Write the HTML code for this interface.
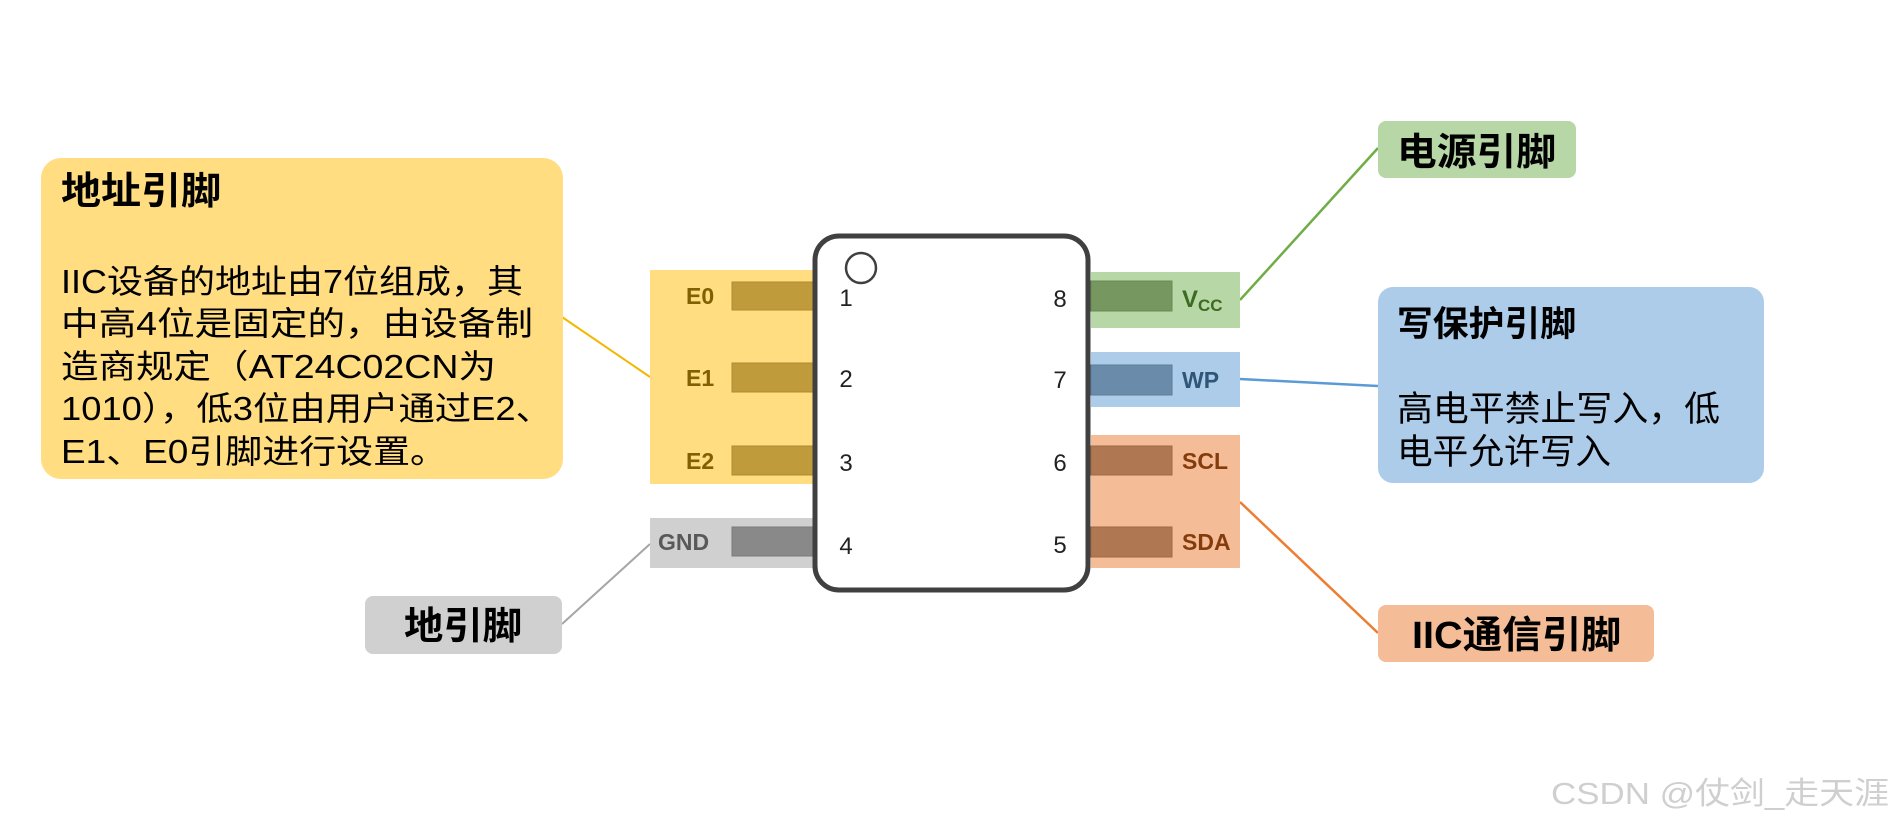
<!DOCTYPE html>
<html><head><meta charset="utf-8"><style>
html,body{margin:0;padding:0;background:#fff;}
svg{display:block;}
text{font-family:"Liberation Sans","Noto Sans CJK SC",sans-serif;}
</style></head><body>
<svg width="1893" height="824" viewBox="0 0 1893 824" xmlns="http://www.w3.org/2000/svg">
<line x1="562" y1="317" x2="650" y2="377" stroke="#f2b800" stroke-width="2"/>
<line x1="562" y1="624" x2="650" y2="544" stroke="#a6a6a6" stroke-width="2"/>
<line x1="1240" y1="300" x2="1378" y2="148" stroke="#70ad47" stroke-width="2.5"/>
<line x1="1240" y1="379" x2="1378" y2="386" stroke="#5b9bd5" stroke-width="2.5"/>
<line x1="1240" y1="502" x2="1378" y2="633" stroke="#ed7d31" stroke-width="2.5"/>

<rect x="650" y="270" width="163" height="214" fill="#ffdd80"/>
<rect x="732" y="282" width="81" height="28" fill="#bf9b3c" stroke="#b08a30"/>
<rect x="732" y="363" width="81" height="29" fill="#bf9b3c" stroke="#b08a30"/>
<rect x="732" y="446" width="81" height="29" fill="#bf9b3c" stroke="#b08a30"/>
<g font-weight="bold" font-size="23" fill="#806000">
<text x="686" y="304">E0</text>
<text x="686" y="386">E1</text>
<text x="686" y="469">E2</text>
</g>
<rect x="650" y="518" width="163" height="50" fill="#d0d0d0"/>
<rect x="732" y="527" width="81" height="29" fill="#898989" stroke="#7a7a7a"/>
<text x="658" y="550" font-weight="bold" font-size="23" fill="#595959">GND</text>

<rect x="1091" y="272" width="149" height="56" fill="#b7d7a6"/>
<rect x="1091" y="281" width="81" height="30" fill="#76975f" stroke="#688a52"/>
<text x="1182" y="307" font-weight="bold" font-size="24" fill="#3e6b22">V<tspan font-size="17" dy="4">CC</tspan></text>
<rect x="1091" y="352" width="149" height="55" fill="#adcce9"/>
<rect x="1091" y="365" width="81" height="30" fill="#6a8caa" stroke="#5c7e9c"/>
<text x="1182" y="388" font-weight="bold" font-size="23" fill="#2f5577">WP</text>
<rect x="1091" y="435" width="149" height="133" fill="#f5bc98"/>
<rect x="1091" y="446" width="81" height="29" fill="#b07852" stroke="#a06a45"/>
<rect x="1091" y="527" width="81" height="30" fill="#b07852" stroke="#a06a45"/>
<g font-weight="bold" font-size="23" fill="#843c0c">
<text x="1182" y="469">SCL</text>
<text x="1182" y="550">SDA</text>
</g>

<rect x="815" y="236" width="273" height="354" rx="24" fill="#fff" stroke="#404040" stroke-width="5"/>
<circle cx="861" cy="268" r="15" fill="none" stroke="#404040" stroke-width="2.5"/>
<g font-size="24" fill="#222" text-anchor="middle">
<text x="846" y="306">1</text>
<text x="846" y="387">2</text>
<text x="846" y="471">3</text>
<text x="846" y="554">4</text>
<text x="1060" y="307">8</text>
<text x="1060" y="388">7</text>
<text x="1060" y="471">6</text>
<text x="1060" y="553">5</text>
</g>

<rect x="41" y="158" width="522" height="321" rx="20" fill="#ffdd80"/>
<text x="61" y="204" font-weight="bold" font-size="38" fill="#000" textLength="160" lengthAdjust="spacingAndGlyphs">地址引脚</text>
<g font-size="33" fill="#000">
<text x="61" y="293" textLength="462" lengthAdjust="spacingAndGlyphs">IIC设备的地址由7位组成，其</text>
<text x="61" y="335" textLength="472" lengthAdjust="spacingAndGlyphs">中高4位是固定的，由设备制</text>
<text x="61" y="378" textLength="435" lengthAdjust="spacingAndGlyphs">造商规定（AT24C02CN为</text>
<text x="61" y="420" textLength="491" lengthAdjust="spacingAndGlyphs">1010），低3位由用户通过E2、</text>
<text x="61" y="463" textLength="386" lengthAdjust="spacingAndGlyphs">E1、E0引脚进行设置。</text>
</g>

<rect x="365" y="596" width="197" height="58" rx="8" fill="#d0d0d0"/>
<text x="404" y="639" font-weight="bold" font-size="38" fill="#000" textLength="118" lengthAdjust="spacingAndGlyphs">地引脚</text>

<rect x="1378" y="121" width="198" height="57" rx="8" fill="#b7d7a6"/>
<text x="1397" y="165" font-weight="bold" font-size="38" fill="#000" textLength="159" lengthAdjust="spacingAndGlyphs">电源引脚</text>

<rect x="1378" y="287" width="386" height="196" rx="15" fill="#adcce9"/>
<text x="1397" y="336" font-weight="bold" font-size="35" fill="#000" textLength="179" lengthAdjust="spacingAndGlyphs">写保护引脚</text>
<g font-size="35" fill="#000">
<text x="1397" y="421" textLength="323" lengthAdjust="spacingAndGlyphs">高电平禁止写入，低</text>
<text x="1397" y="464" textLength="214" lengthAdjust="spacingAndGlyphs">电平允许写入</text>
</g>

<rect x="1378" y="605" width="276" height="57" rx="8" fill="#f5bc98"/>
<text x="1412" y="648" font-weight="bold" font-size="38" fill="#000" textLength="209" lengthAdjust="spacingAndGlyphs">IIC通信引脚</text>

<text x="1551" y="804" font-size="31" fill="#cfcfcf" textLength="338" lengthAdjust="spacingAndGlyphs">CSDN @仗剑_走天涯</text>
</svg>
</body></html>
